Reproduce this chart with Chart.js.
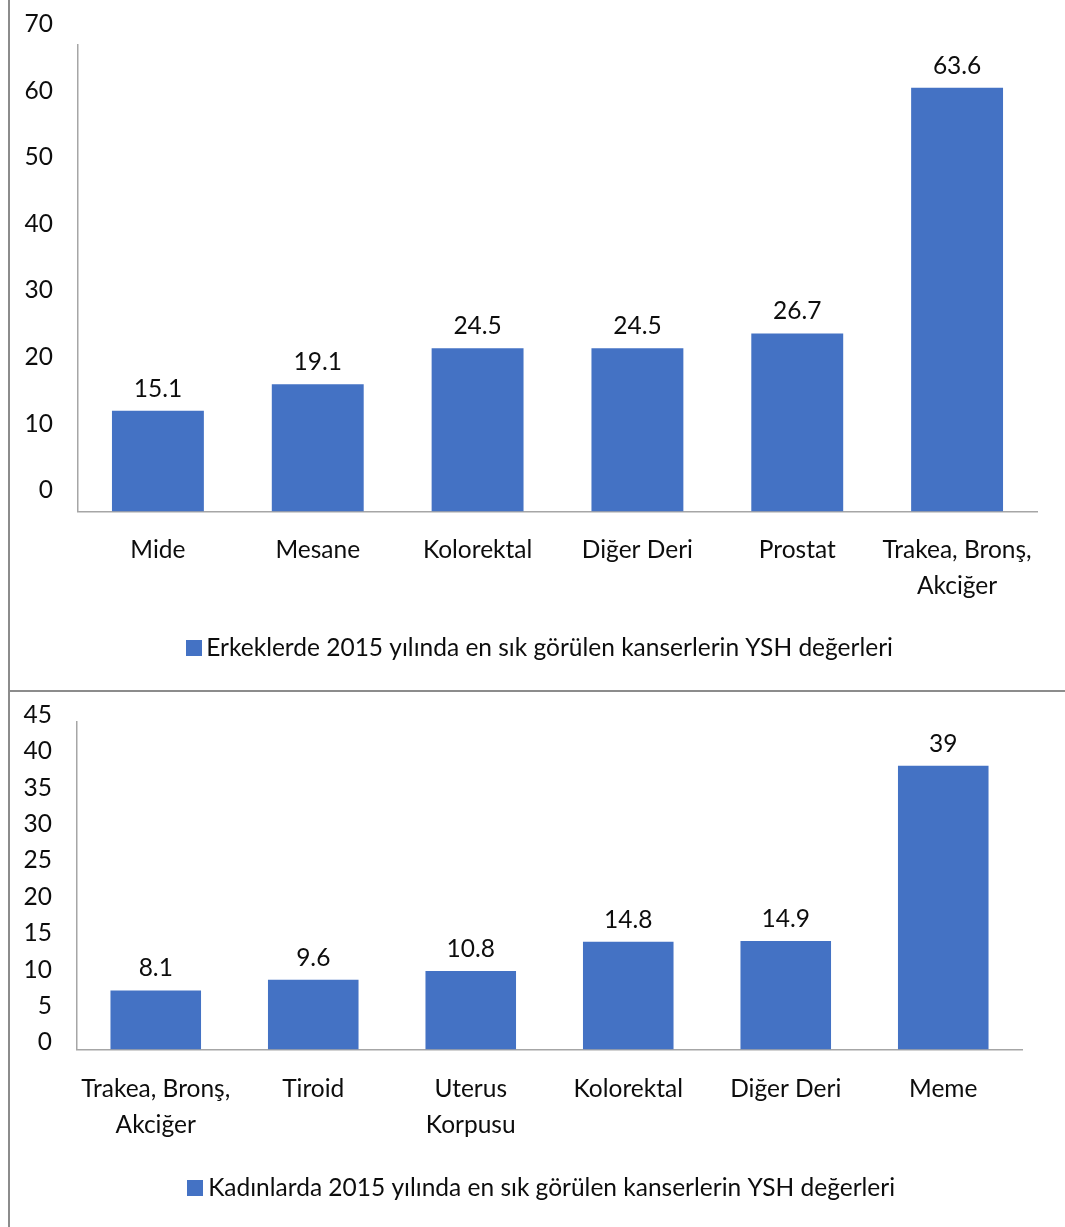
<!DOCTYPE html>
<html lang="tr">
<head>
<meta charset="utf-8">
<title>YSH değerleri 2015</title>
<script src="https://cdn.jsdelivr.net/npm/chart.js@4.4.1/dist/chart.umd.min.js"></script>
<style>
  html, body { margin: 0; padding: 0; background: #fff; }
  .frame {
    position: absolute; left: 8px; top: 0;
    width: 1057px; height: 1227px;
    border-left: 2px solid #8c8c8c;
    box-sizing: border-box;
  }
  .cell { position: relative; width: 1055px; }
  #cellTop { height: 690px; border-bottom: 2px solid #8c8c8c; }
  #cellBottom { height: 535px; }
</style>
</head>
<body>
<div class="frame">
  <div class="cell" id="cellTop"><canvas id="menChart"></canvas></div>
  <div class="cell" id="cellBottom"><canvas id="womenChart"></canvas></div>
</div>
<script>
// Erkekler
const menLabels = ['Mide', 'Mesane', 'Kolorektal', 'Diğer Deri', 'Prostat', ['Trakea, Bronş,', 'Akciğer']];
const menValues = [15.1, 19.1, 24.5, 24.5, 26.7, 63.6];
const menTitle = 'Erkeklerde 2015 yılında en sık görülen kanserlerin YSH değerleri';
const menTicks = [0, 10, 20, 30, 40, 50, 60, 70];

// Kadınlar
const womenLabels = [['Trakea, Bronş,', 'Akciğer'], 'Tiroid', ['Uterus', 'Korpusu'], 'Kolorektal', 'Diğer Deri', 'Meme'];
const womenValues = [8.1, 9.6, 10.8, 14.8, 14.9, 39];
const womenTitle = 'Kadınlarda 2015 yılında en sık görülen kanserlerin YSH değerleri';
const womenTicks = [0, 5, 10, 15, 20, 25, 30, 35, 40, 45];

const BAR_COLOR = '#4472C4';
const AXIS_COLOR = '#a6a6a6';
const TEXT_COLOR = '#0d0d0d';
const FONT = 'Lato, "Noto Sans", sans-serif';
const FONT_SIZE = 24.5;

// small square swatch for the legend (sits close to the text)
const swatch = document.createElement('canvas');
swatch.width = 16;
swatch.height = 16;
const sctx = swatch.getContext('2d');
sctx.fillStyle = BAR_COLOR;
sctx.fillRect(0, 0, 16, 16);

// bar values written above each bar
const valueLabels = {
    id: 'valueLabels',
    afterDatasetsDraw(chart) {
        const ctx = chart.ctx;
        const values = chart.data.datasets[0].data;
        ctx.save();
        ctx.font = FONT_SIZE + 'px ' + FONT;
        ctx.fillStyle = TEXT_COLOR;
        ctx.textAlign = 'center';
        ctx.textBaseline = 'middle';
        chart.getDatasetMeta(0).data.forEach((bar, i) => {
            ctx.fillText(String(values[i]), bar.x, bar.y - 22);
        });
        ctx.restore();
    }
};

function buildChart(canvasId, cfg) {
    // legend is centred on the whole cell, not just on the plot width
    const legendCenter = {
        id: 'legendCenter',
        afterLayout(chart) {
            const lg = chart.legend;
            const half = lg.width / 2;
            lg.left = cfg.legendCenter - half;
            lg.right = cfg.legendCenter + half;
        }
    };

    return new Chart(document.getElementById(canvasId), {
        type: 'bar',
        data: {
            labels: cfg.labels,
            datasets: [{
                label: cfg.title,
                data: cfg.values,
                backgroundColor: BAR_COLOR,
                borderWidth: 0,
                barPercentage: 0.575,
                categoryPercentage: 1
            }]
        },
        options: {
            responsive: true,
            maintainAspectRatio: false,
            animation: false,
            layout: { padding: cfg.padding },
            plugins: {
                tooltip: { enabled: false },
                legend: {
                    position: 'bottom',
                    labels: {
                        usePointStyle: true,
                        pointStyle: swatch,
                        pointStyleWidth: 1,
                        boxHeight: 16,
                        padding: 10,
                        color: TEXT_COLOR,
                        font: { family: FONT, size: FONT_SIZE }
                    }
                }
            },
            scales: {
                x: {
                    grid: { display: false, drawTicks: false },
                    border: { display: true, color: AXIS_COLOR, width: 1.5 },
                    ticks: {
                        color: TEXT_COLOR,
                        padding: cfg.xPad,
                        maxRotation: 0,
                        autoSkip: false,
                        font: { family: FONT, size: FONT_SIZE, lineHeight: 1.47 }
                    },
                    afterFit: s => { s.height = cfg.xHeight; }
                },
                y: {
                    min: 0,
                    max: cfg.ticks[cfg.ticks.length - 1],
                    grid: { display: false, drawTicks: false },
                    border: { display: true, color: AXIS_COLOR, width: 1.5 },
                    afterBuildTicks: s => { s.ticks = cfg.ticks.map(v => ({ value: v })); },
                    ticks: {
                        color: TEXT_COLOR,
                        padding: 25,
                        labelOffset: cfg.labelOffset,
                        font: { family: FONT, size: FONT_SIZE }
                    },
                    // fixed axis width; labels are shifted up so no extra room needed above the plot
                    afterFit: s => {
                        s.width = cfg.yWidth;
                        s.paddingTop = 0;
                        s.paddingBottom = 0;
                    }
                }
            }
        },
        plugins: [valueLabels, legendCenter]
    });
}

buildChart('menChart', {
    labels: menLabels, values: menValues, title: menTitle, ticks: menTicks,
    padding: { top: 45, right: 28, bottom: 20, left: 0 },
    xPad: 21, xHeight: 114, yWidth: 68, labelOffset: -21, legendCenter: 533
});

buildChart('womenChart', {
    labels: womenLabels, values: womenValues, title: womenTitle, ticks: womenTicks,
    padding: { top: 30, right: 43, bottom: 17, left: 0 },
    xPad: 22, xHeight: 116, yWidth: 67, labelOffset: -7, legendCenter: 535
});
</script>
</body>
</html>
